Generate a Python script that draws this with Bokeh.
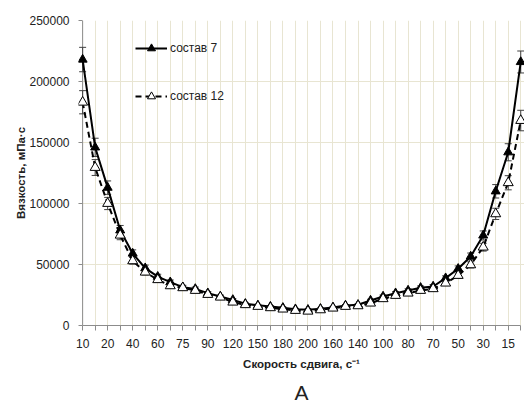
from bokeh.plotting import figure
from bokeh.models import (ColumnDataSource, Range1d, FixedTicker, Whisker, TeeHead,
                          Span, Legend, LegendItem, Title, NumeralTickFormatter)
from bokeh.embed import file_html
from bokeh.resources import INLINE

# shear rate categories (up and down sweep)
shear_rates = [10, 15, 20, 30, 40, 50, 60, 70, 75, 80, 90, 100, 120, 140, 150, 160, 180, 190, 200,
               180, 160, 150, 140, 120, 100, 90, 80, 75, 70, 60, 50, 40, 30, 20, 15, 10]
# viscosity, mPa*s
visc_7 = [218000, 146000, 113000, 78000, 59000, 47000, 40000, 35500, 31400, 30000, 26500, 23800,
          21000, 17800, 16500, 15500, 14500, 13400, 12900, 13700, 14800, 16400, 17000, 20500,
          23800, 26500, 28700, 30900, 32000, 38800, 46500, 56600, 73800, 110000, 142000, 216000]
visc_12 = [183000, 129500, 100000, 74000, 53000, 43700, 37500, 32500, 30900, 28700, 25400, 23200,
           19100, 17000, 15600, 14500, 13400, 12300, 11700, 12800, 14200, 15600, 16100, 18300,
           21900, 24600, 26500, 28700, 30100, 34700, 41000, 49700, 64200, 91500, 117000, 168000]
err_7 = [10000, 7500, 5500, 4000, 3000, 2500, 2000, 1800, 1600, 1500, 1300, 1200,
         1000, 900, 800, 800, 700, 700, 600, 700, 700, 800, 900, 1000,
         1200, 1300, 1400, 1500, 1600, 1900, 2300, 2800, 3700, 5500, 7000, 9000]
err_12 = [9500, 6500, 5000, 3700, 2700, 2200, 1900, 1600, 1500, 1400, 1300, 1200,
          1000, 900, 800, 700, 700, 600, 600, 600, 700, 800, 800, 900,
          1100, 1200, 1300, 1400, 1500, 1700, 2000, 2500, 3200, 4600, 5800, 8400]
y_ticks = [0, 50000, 100000, 150000, 200000, 250000]
series_names = ["состав 7", "состав 12"]

FONT = "Liberation Sans"
GRID = "#E8E5D2"
AXIS = "#8C8C8C"
ERR = "#404040"
TXT = "#222222"

x = list(range(len(shear_rates)))
n = len(x)

p = figure(width=524, height=412, output_backend="svg", toolbar_location=None,
           x_range=Range1d(-0.33, n - 1 + 0.30), y_range=Range1d(0, 250000),
           min_border_left=78, min_border_right=0, min_border_top=20, min_border_bottom=87)
p.outline_line_color = None
p.background_fill_color = "white"
p.border_fill_color = "white"

# x axis
p.xaxis.ticker = FixedTicker(ticks=x[::2], minor_ticks=x[1::2])
p.xaxis.major_label_overrides = {i: str(shear_rates[i]) for i in x[::2]}
p.xaxis.bounds = (0, n - 1)
p.xaxis.axis_line_color = AXIS
p.xaxis.major_tick_line_color = AXIS
p.xaxis.minor_tick_line_color = AXIS
p.xaxis.major_tick_in = 0
p.xaxis.major_tick_out = 5
p.xaxis.minor_tick_in = 0
p.xaxis.minor_tick_out = 5
p.xaxis.major_label_standoff = 8
p.xaxis.major_label_text_font = FONT
p.xaxis.major_label_text_font_size = "12px"
p.xaxis.major_label_text_color = TXT
p.xaxis.axis_label = "Скорость сдвига, с⁻¹"
p.xaxis.axis_label_text_font = FONT
p.xaxis.axis_label_text_font_style = "bold"
p.xaxis.axis_label_text_font_size = "11.5px"
p.xaxis.axis_label_text_color = TXT
p.xaxis.axis_label_standoff = 7

# y axis
p.yaxis.ticker = FixedTicker(ticks=y_ticks)
p.yaxis.formatter = NumeralTickFormatter(format="0")
p.yaxis.axis_line_color = None
p.yaxis.major_tick_line_color = AXIS
p.yaxis.major_tick_in = 4
p.yaxis.major_tick_out = 0
p.yaxis.minor_tick_line_color = None
p.yaxis.major_label_standoff = 9
p.yaxis.major_label_text_font = FONT
p.yaxis.major_label_text_font_size = "12px"
p.yaxis.major_label_text_color = TXT
p.yaxis.axis_label = "Вязкость, мПа·с"
p.yaxis.axis_label_text_font = FONT
p.yaxis.axis_label_text_font_style = "bold"
p.yaxis.axis_label_text_font_size = "11.5px"
p.yaxis.axis_label_text_color = TXT
p.yaxis.axis_label_standoff = -1

# grids
p.xgrid.grid_line_color = GRID
p.xgrid.minor_grid_line_color = GRID
p.ygrid.grid_line_color = GRID

p.add_layout(Span(location=0, dimension="height", line_color=AXIS, line_width=1, level="underlay"))

# error bars
src7 = ColumnDataSource(dict(x=x, upper=[v + e for v, e in zip(visc_7, err_7)],
                             lower=[v - e for v, e in zip(visc_7, err_7)]))
src12 = ColumnDataSource(dict(x=x, upper=[v + e for v, e in zip(visc_12, err_12)],
                              lower=[v - e for v, e in zip(visc_12, err_12)]))
for src in (src7, src12):
    w = Whisker(base="x", upper="upper", lower="lower", source=src, line_color=ERR, line_width=1,
                upper_head=TeeHead(size=7, line_color=ERR, line_width=1),
                lower_head=TeeHead(size=7, line_color=ERR, line_width=1))
    p.add_layout(w)

# series
r7l = p.line(x, visc_7, line_color="black", line_width=2)
r7m = p.scatter(x, visc_7, marker="triangle", size=9, fill_color="black", line_color="black")
r12l = p.line(x, visc_12, line_color="black", line_width=2, line_dash="6 4")
r12m = p.scatter(x, visc_12, marker="triangle", size=10, fill_color="white", line_color="black",
                 line_width=1)

legend = Legend(items=[LegendItem(label=series_names[0], renderers=[r7l, r7m]),
                       LegendItem(label=series_names[1], renderers=[r12l, r12m])],
                location=(57, 219), spacing=28, padding=0, margin=0,
                border_line_color=None, background_fill_alpha=0,
                glyph_width=32, glyph_height=20, label_height=20, label_standoff=3,
                label_text_font=FONT, label_text_font_size="12px", label_text_color=TXT)
p.add_layout(legend)

p.add_layout(Title(text="А", align="center", text_font=FONT, text_font_size="21px",
                   text_font_style="normal", text_color=TXT, standoff=13), "below")

open("out.html", "w").write(file_html(p, INLINE))
